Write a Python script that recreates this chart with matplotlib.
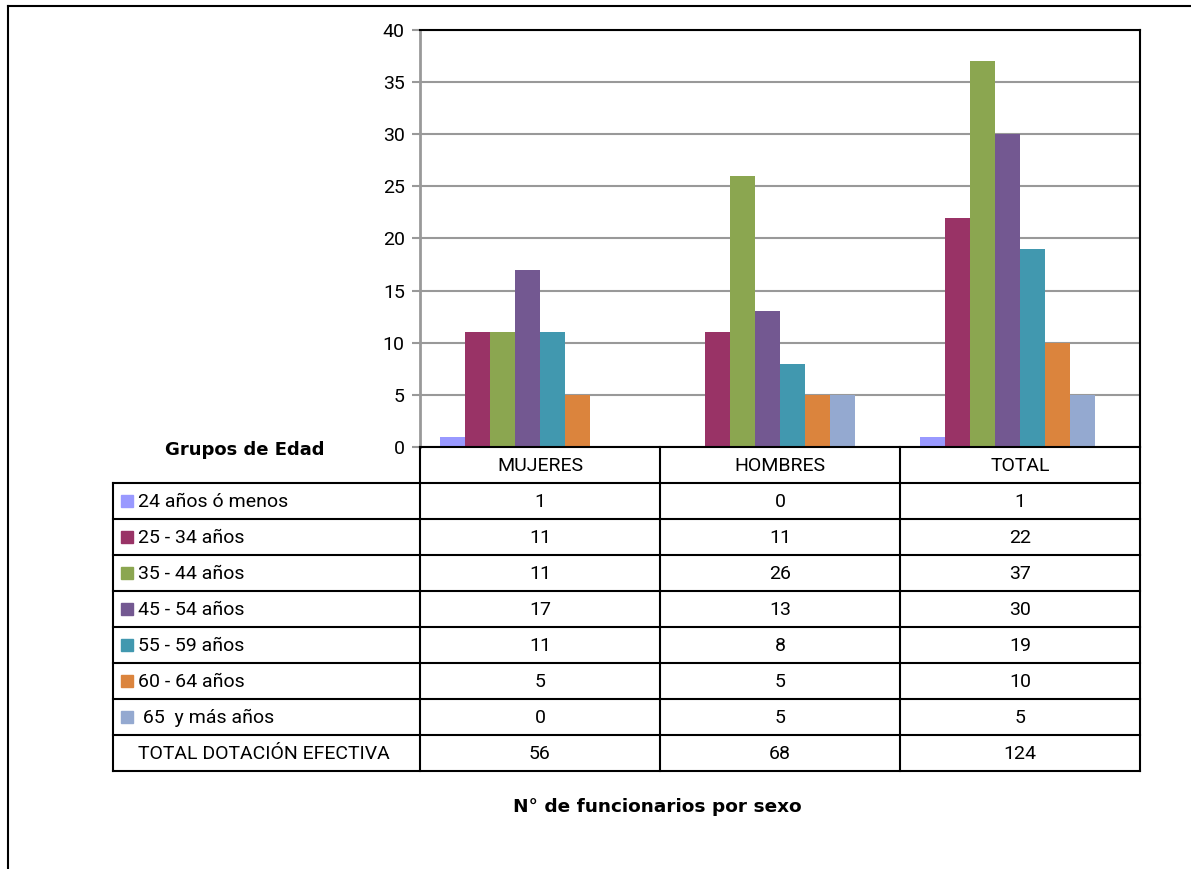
import matplotlib.pyplot as plt
import numpy as np
from matplotlib.patches import Rectangle

categories = ['MUJERES', 'HOMBRES', 'TOTAL']
groups = ['24 años ó menos', '25 - 34 años', '35 - 44 años', '45 - 54 años',
          '55 - 59 años', '60 - 64 años', ' 65  y más años']
mujeres = [1, 11, 11, 17, 11, 5, 0]
hombres = [0, 11, 26, 13, 8, 5, 5]
total = [1, 22, 37, 30, 19, 10, 5]
dotacion = [56, 68, 124]
colors = ['#9999FF', '#993366', '#8BA650', '#735891', '#4198AF', '#DB843D', '#94A9D0']

narrow = ['Roboto', 'DejaVu Sans']
W, H = 1191, 869

fig = plt.figure(figsize=(W / 100, H / 100), dpi=100)

def fx(px):
    return px / W

def fy(py):
    return 1 - py / H

# chart area frame (top and left edges visible)
fig.add_artist(plt.Line2D([fx(8), fx(1191)], [fy(6), fy(6)], color='black', lw=1.5))
fig.add_artist(plt.Line2D([fx(8), fx(8)], [fy(6), fy(869)], color='black', lw=1.5))

# bar plot (8 slots per category, the last one is the hidden total series)
ax = fig.add_axes([fx(420), fy(447), fx(1140) - fx(420), (447 - 30) / H])
data = np.array([mujeres, hombres, total])
x = np.arange(len(categories))
bw = 25 / 240
for i, g in enumerate(groups):
    ax.bar(x + (i - 3.5) * bw, data[:, i], width=bw, color=colors[i], zorder=3)
ax.set_xlim(-0.5, 2.5)
ax.set_ylim(0, 40)
ax.set_yticks(range(0, 41, 5))
ax.set_xticks([])
ax.yaxis.grid(True, color='#999999', lw=1.5, zorder=0)
ax.tick_params(axis='y', length=6, width=1.5, color='#999999', pad=5, labelsize=14)
for lab in ax.get_yticklabels():
    lab.set_family(narrow)
ax.spines['left'].set_color('#999999')
ax.spines['left'].set_linewidth(2)
ax.spines['top'].set_linewidth(1.5)
ax.spines['right'].set_linewidth(1.5)
ax.spines['bottom'].set_visible(False)

# data table
tab = fig.add_axes([0, 0, 1, 1], facecolor='none')
tab.set_xlim(0, W)
tab.set_ylim(H, 0)
tab.axis('off')
cols = [113, 420, 660, 900, 1140]
row_h = 36
top = 447
nrows = len(groups) + 2
bottom = top + nrows * row_h
lw = 1.5
tab.plot([420, 1140], [top, top], color='black', lw=lw)
for r in range(1, nrows + 1):
    tab.plot([113, 1140], [top + r * row_h] * 2, color='black', lw=lw)
tab.plot([113, 113], [top + row_h, bottom], color='black', lw=lw)
for c in cols[1:]:
    tab.plot([c, c], [top, bottom], color='black', lw=lw)

for j, cat in enumerate(categories):
    tab.text((cols[j + 1] + cols[j + 2]) / 2, top + row_h / 2 + 1, cat,
             ha='center', va='center', fontsize=14, family=narrow)

for i, g in enumerate(groups):
    yc = top + (i + 1.5) * row_h
    tab.add_patch(Rectangle((121, yc - 6), 12, 12, color=colors[i]))
    tab.text(138, yc + 1, g, ha='left', va='center', fontsize=14, family=narrow)
    for j in range(3):
        tab.text((cols[j + 1] + cols[j + 2]) / 2, yc + 1, str(data[j, i]),
                 ha='center', va='center', fontsize=14, family=narrow)

yc = top + (nrows - 0.5) * row_h
tab.text(138, yc + 1, 'TOTAL DOTACIÓN EFECTIVA', ha='left', va='center',
         fontsize=14, family=narrow)
for j in range(3):
    tab.text((cols[j + 1] + cols[j + 2]) / 2, yc + 1, str(dotacion[j]),
             ha='center', va='center', fontsize=14, family=narrow)

tab.text(245, 450, 'Grupos de Edad', ha='center', va='center', fontsize=13,
         fontweight='bold')
tab.text(657, 807, 'N° de funcionarios por sexo', ha='center', va='center',
         fontsize=13.3, fontweight='bold')

fig.savefig('out.png', dpi=100)
